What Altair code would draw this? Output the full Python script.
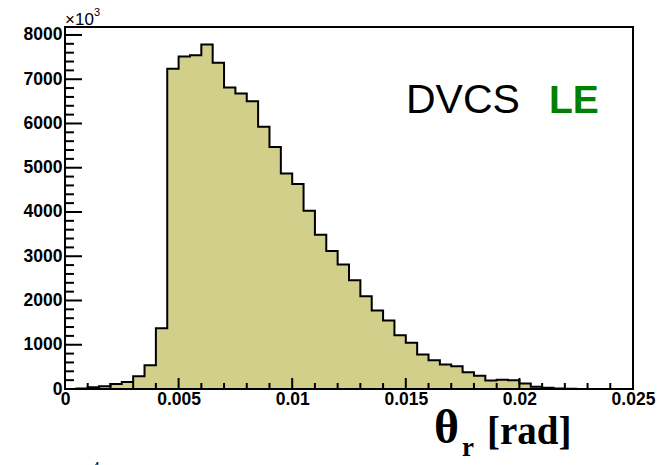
import altair as alt
import pandas as pd

# ---- data ----
bin_width = 0.0005
counts = [0, 10, 38, 60, 115, 160, 288, 535, 1375, 7235,
          7513, 7540, 7785, 7370, 6815, 6680, 6505, 5925, 5467, 4870,
          4632, 4030, 3488, 3120, 2815, 2460, 2095, 1775, 1550, 1215,
          1045, 779, 650, 553, 515, 380, 300, 190, 210, 199,
          124, 50, 27, 10, 5, 0, 0, 0, 0, 0]
x_major = [0, 0.005, 0.01, 0.015, 0.02, 0.025]
x_minor = [0.001, 0.002, 0.003, 0.004, 0.006, 0.007, 0.008, 0.009,
           0.011, 0.012, 0.013, 0.014, 0.016, 0.017, 0.018, 0.019,
           0.021, 0.022, 0.023, 0.024]
y_major = [0, 1000, 2000, 3000, 4000, 5000, 6000, 7000, 8000]
y_minor = [v for v in range(0, 8001, 200) if v % 1000 != 0]

W, H = 568, 362
FILL = "#d2cf8b"

edges = [i * bin_width for i in range(len(counts) + 1)]
hist = pd.DataFrame({"x": edges, "y": counts + [counts[-1]]})

xs = alt.Scale(domain=[0, 0.025], nice=False, zero=False)
ys = alt.Scale(domain=[0, 8180], nice=False)

area = alt.Chart(hist).mark_area(
    interpolate="step-after", color=FILL, opacity=1, fillOpacity=1,
    line={"color": "black", "strokeWidth": 2}
).encode(
    x=alt.X("x:Q", scale=xs, axis=alt.Axis(
        values=x_major, format=".3~f", title=None, grid=False, ticks=False,
        tickSize=0, domain=False, labelFont="Liberation Sans", labelFontWeight="bold",
        labelFontSize=17.5, labelColor="black", labelPadding=1, labelFlush=False)),
    y=alt.Y("y:Q", scale=ys, axis=alt.Axis(
        values=y_major, format="d", title=None, grid=False, ticks=False,
        tickSize=0, domain=False, labelFont="Liberation Sans", labelFontWeight="bold",
        labelFontSize=17.5, labelColor="black", labelPadding=3, labelFlush=False)),
)

ymaj = alt.Chart(pd.DataFrame({"v": y_major})).mark_rule(color="black", strokeWidth=2).encode(
    y=alt.Y("v:Q", scale=ys), x=alt.value(0), x2=alt.value(17))
ymin = alt.Chart(pd.DataFrame({"v": y_minor})).mark_rule(color="black", strokeWidth=2).encode(
    y=alt.Y("v:Q", scale=ys), x=alt.value(0), x2=alt.value(9))
xmaj = alt.Chart(pd.DataFrame({"v": x_major})).mark_rule(color="black", strokeWidth=2).encode(
    x=alt.X("v:Q", scale=xs), y=alt.value(H), y2=alt.value(H - 11))
xmin = alt.Chart(pd.DataFrame({"v": x_minor})).mark_rule(color="black", strokeWidth=2).encode(
    x=alt.X("v:Q", scale=xs), y=alt.value(H), y2=alt.value(H - 6))

bottom = alt.Chart(pd.DataFrame({"a": [0]})).mark_rule(color="black", strokeWidth=2).encode(
    x=alt.value(0), x2=alt.value(W), y=alt.value(H))

def txt(s, x, y, size, font="Liberation Sans", weight="normal", color="black"):
    return alt.Chart(pd.DataFrame({"t": [s]})).mark_text(
        align="left", baseline="alphabetic", font=font, fontSize=size,
        fontWeight=weight, color=color
    ).encode(text="t:N", x=alt.value(x), y=alt.value(y))

texts = [
    txt("DVCS", 341, 86, 41),
    txt("LE", 484, 86, 39, weight="bold", color="#008000"),
    txt("\u00d710", 0, -2, 17),
    txt("3", 29, -11, 11),
    txt("\u03b8", 369, 416, 48, font="Liberation Serif", weight="bold"),
    txt("r", 397, 429, 27, font="Liberation Serif", weight="bold"),
    txt("[rad]", 422, 417, 39, font="Liberation Serif", weight="bold"),
    txt("4", 28, 444, 12),
]

chart = alt.layer(area, ymin, ymaj, xmin, xmaj, bottom, *texts).properties(
    width=W, height=H,
    autosize=alt.AutoSizeParams(type="none"),
    padding={"left": 65, "top": 27, "right": 24, "bottom": 76},
    background="white",
).configure_view(stroke="black", strokeWidth=2)

chart.save("out.html", embed_options={"renderer": "svg", "actions": False})
